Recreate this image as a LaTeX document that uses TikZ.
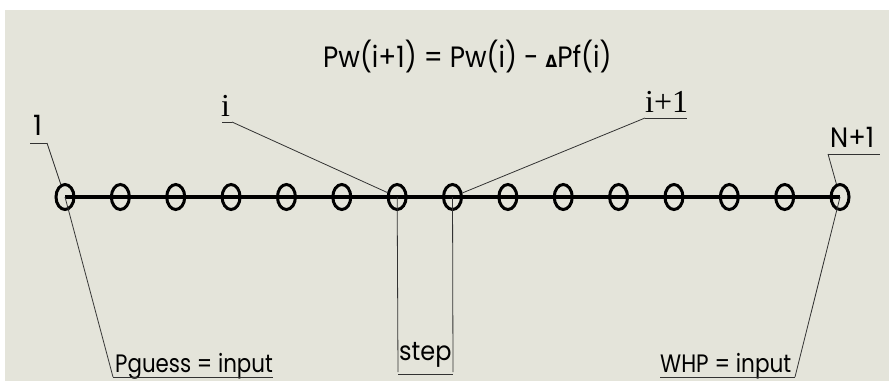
\documentclass[tikz,border=0pt]{standalone}
\usepackage{graphicx}
\usepackage{fontspec}
\setmainfont{Poppins}
\newfontfamily\serifl{Liberation Serif}
\newfontfamily\deltaf{DejaVu Sans}
\usetikzlibrary{shapes.geometric}
\definecolor{bgc}{RGB}{228,228,218}
\definecolor{leadc}{RGB}{50,50,50}
\tikzset{
  nodept/.style={ellipse, draw=black, line width=3pt, minimum width=18pt, minimum height=25pt, inner sep=0pt},
  mainline/.style={line width=3.6pt, black},
  leader/.style={line width=0.8pt, leadc},
  uline/.style={line width=1pt, leadc},
  lbl/.style={anchor=base west, inner sep=0pt, text=black},
}
\begin{document}
\begin{tikzpicture}[x=1pt,y=-1pt]
\useasboundingbox (0,0) rectangle (889,381);
\fill[white] (0,0) rectangle (889,381);
\fill[bgc] (5,10) rectangle (889,381);
% circles
\foreach \k in {1,...,15}{
  \pgfmathsetmacro\xx{65+(\k-1)*55.36}
  \node[nodept] (c\k) at (\xx,197) {};
}
\draw[mainline] (c1.center) -- (c15.center);
% equation
\node[lbl] (eq) at (323,67) {\scalebox{0.94}[1.05]{\fontsize{28}{30}\selectfont Pw(i+1) = Pw(i) - {\deltaf\bfseries\fontsize{16}{18}\selectfont Δ}Pf(i)}};
% label 1
\node[lbl] (l1) at (33,135) {\fontsize{28}{30}\selectfont 1};
\coordinate (u1a) at (30,143);
\coordinate (u1b) at (47,143);
\draw[uline] (u1a) -- (u1b);
\draw[leader] (u1b) -- (c1);
% label i
\node[lbl] (li) at (221,116) {\serifl\fontsize{32}{34}\selectfont i};
\coordinate (uia) at (222,122);
\coordinate (uib) at (232,122);
\draw[uline] (uia) -- (uib);
\draw[leader] (uib) -- (c7);
% label i+1
\node[lbl] (li1) at (645,112) {\serifl\fontsize{32}{34}\selectfont i+1};
\coordinate (ujb) at (645,118);
\coordinate (uja) at (687,118);
\draw[uline] (ujb) -- (uja);
\draw[leader] (ujb) -- (c8);
% label N+1
\node[lbl] (ln) at (830,147) {\scalebox{0.92}[1]{\fontsize{28}{30}\selectfont N+1}};
\coordinate (una) at (828,154);
\coordinate (unb) at (880,154);
\draw[uline] (una) -- (unb);
\draw[leader] (una) -- (c15);
% Pguess
\node[lbl] (pg) at (115,372) {\scalebox{0.89}[1.05]{\fontsize{24}{26}\selectfont Pguess = input}};
\coordinate (pga) at (113,377);
\coordinate (pgb) at (273,377);
\draw[leader] (c1.center) -- (pga);
\draw[uline] (pga) -- (pgb);
% WHP
\node[lbl] (wh) at (660,372) {\scalebox{0.9}[1.05]{\fontsize{24}{26}\selectfont WHP = input}};
\coordinate (wha) at (660,377);
\coordinate (whb) at (795,377);
\draw[leader] (c15.center) -- (whb);
\draw[uline] (wha) -- (whb);
% step dimension
\coordinate (d1) at (398,372);
\coordinate (d2) at (453,372);
\draw[leader] (c7.center) -- (d1);
\draw[leader] (c8.center) -- (d2);
\draw[uline] ([yshift=-2pt]d1) -- ([yshift=-2pt]d2);
\node[lbl] (st) at (399,360) {\scalebox{1}[1.1]{\fontsize{24}{26}\selectfont step}};
\end{tikzpicture}
\end{document}
